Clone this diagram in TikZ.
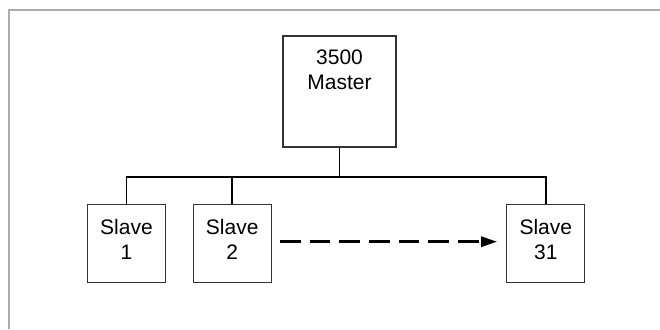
\documentclass[tikz,border=0pt]{standalone}
\usepackage{fontspec}
\setmainfont{Liberation Sans}
\usetikzlibrary{arrows.meta,positioning}
\definecolor{framegray}{HTML}{ABABAB}
\definecolor{boxline}{HTML}{333333}

\begin{document}
\begin{tikzpicture}[
    x=1pt, y=1pt,
    master/.style={draw=boxline, line width=1.3pt, rectangle, minimum width=113pt, minimum height=111pt, inner sep=0pt},
    slavebox/.style={draw=boxline, line width=1.3pt, rectangle, minimum width=78pt, minimum height=78pt, inner sep=0pt},
    boxtext/.style={align=center, inner sep=0pt, font=\fontsize{21}{25.5}\selectfont},
    bus/.style={line width=1.8pt, black},
    more/.style={-{Triangle[length=16pt, width=10pt]}, line width=2.6pt, dash pattern=on 20.7pt off 9pt},
  ]
    \useasboundingbox (0,0) rectangle (660,329);
    % Frame
    \draw[framegray, line width=2pt] (8.5,0) -- (8.5,319) -- (661,319);

    % Nodes
    \node[master] (m) at (339.5,237.5) {};
    \node[boxtext, anchor=north] (mt) at ([yshift=-14pt]m.north) {3500\\Master};
    \node[slavebox] (s1) at (126.5,85.6) {};
    \node[slavebox, right=26.4pt of s1] (s2) {};
    \node[slavebox] (s31) at (545.8,85.6) {};
    \node[boxtext] (t1) at ([yshift=4pt]s1.center) {Slave\\1};
    \node[boxtext] (t2) at ([yshift=4pt]s2.center) {Slave\\2};
    \node[boxtext] (t31) at ([yshift=4pt]s31.center) {Slave\\31};

    % Bus
    \draw[bus] (m.south) -- ++(0,-29) coordinate (b);
    \draw[bus] (s1.north) |- (b) -| (s31.north);
    \draw[bus] (s2.north) -- (s2.north |- b);

    % Further slaves
    \draw[more, shorten <=8pt, shorten >=9pt] ([yshift=1.7pt]s2.east) -- ([yshift=1.7pt]s31.west);
  \end{tikzpicture}
\end{document}
